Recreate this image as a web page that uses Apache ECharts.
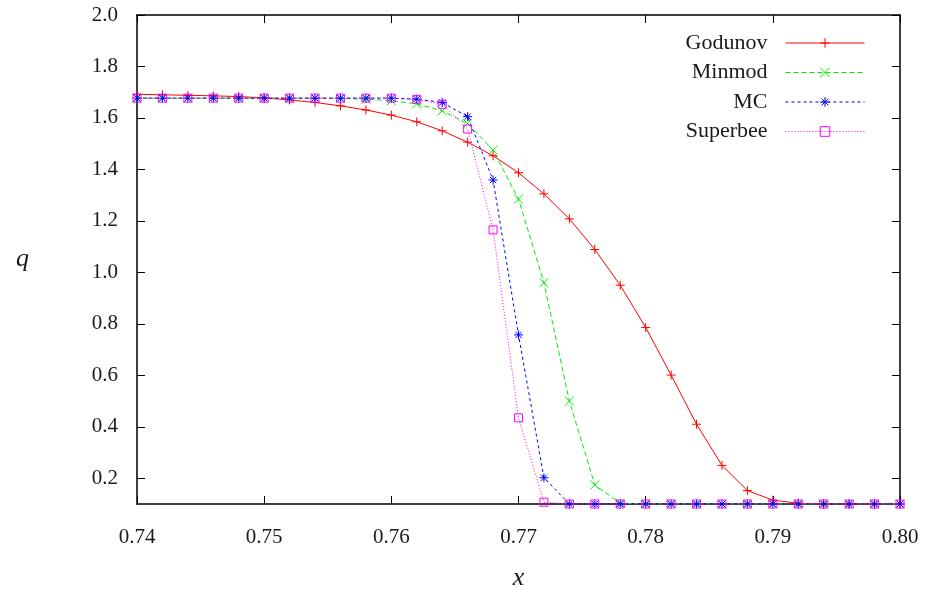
<!DOCTYPE html>
<html>
<head>
<meta charset="utf-8">
<script src="https://cdn.jsdelivr.net/npm/echarts@6/dist/echarts.min.js"></script>
<style>
  html, body { margin: 0; padding: 0; background: #fff; }
  #chart { width: 926px; height: 590px; }
</style>
</head>
<body>
<div id="chart"></div>
<script>
// x positions of the cells
const xs = [0.740, 0.742, 0.744, 0.746, 0.748, 0.750, 0.752, 0.754, 0.756, 0.758,
  0.760, 0.762, 0.764, 0.766, 0.768, 0.770, 0.772, 0.774, 0.776, 0.778,
  0.780, 0.782, 0.784, 0.786, 0.788, 0.790, 0.792, 0.794, 0.796, 0.798, 0.800]

const godunov = [1.692, 1.690, 1.688, 1.686, 1.683, 1.678, 1.670, 1.660, 1.647, 1.631,
  1.611, 1.585, 1.550, 1.506, 1.453, 1.387, 1.305, 1.208, 1.089, 0.950,
  0.786, 0.601, 0.410, 0.250, 0.152, 0.115, 0.103, 0.100, 0.100, 0.100, 0.100]

const minmod = [1.677, 1.677, 1.677, 1.677, 1.677, 1.677, 1.677, 1.677, 1.676, 1.673,
  1.667, 1.655, 1.628, 1.578, 1.475, 1.285, 0.960, 0.500, 0.174, 0.103,
  0.100, 0.100, 0.100, 0.100, 0.100, 0.100, 0.100, 0.100, 0.100, 0.100, 0.100]

const mc = [1.677, 1.677, 1.677, 1.677, 1.677, 1.677, 1.677, 1.677, 1.677, 1.677,
  1.677, 1.673, 1.660, 1.605, 1.359, 0.757, 0.202, 0.100, 0.100, 0.100,
  0.100, 0.100, 0.100, 0.100, 0.100, 0.100, 0.100, 0.100, 0.100, 0.100, 0.100]

const superbee = [1.677, 1.677, 1.677, 1.677, 1.677, 1.677, 1.677, 1.677, 1.677, 1.677,
  1.677, 1.672, 1.653, 1.557, 1.165, 0.435, 0.107, 0.100, 0.100, 0.100,
  0.100, 0.100, 0.100, 0.100, 0.100, 0.100, 0.100, 0.100, 0.100, 0.100, 0.100]

const yTicks = [0.2, 0.4, 0.6, 0.8, 1.0, 1.2, 1.4, 1.6, 1.8, 2.0]

const names = ['Godunov', 'Minmod', 'MC', 'Superbee']

const FONT = 'Liberation Serif'
const INK = '#1a1a1a'

const plus = 'path://M5 0L5 10M0 5L10 5'
const cross = 'path://M0 0L10 10M10 0L0 10'
const star = 'path://M5 0L5 10M0 5L10 5M1.5 1.5L8.5 8.5M8.5 1.5L1.5 8.5'

function pairs(ys) {
  return xs.map((x, i) => [x, ys[i]])
}

function makeSeries(name, ys, color, symbol, size, dash) {
  return {
    name: name,
    type: 'line',
    data: pairs(ys),
    symbol: symbol,
    symbolSize: size,
    showAllSymbol: true,
    lineStyle: { color: color, width: 1, type: dash },
    itemStyle: { color: 'none', borderColor: color, borderWidth: 1 },
    emphasis: { disabled: true }
  }
}

const chart = echarts.init(document.getElementById('chart'))

const axisLine = { show: true, onZero: false, lineStyle: { color: '#000', width: 1.5 } }
const axisTick = { show: true, inside: true, length: 8, lineStyle: { color: '#000', width: 1 } }

const rowTops = [32, 61.5, 91, 120.5]

const option = {
  animation: false,
  grid: { left: 137, right: 26, top: 15, bottom: 86, outerBoundsMode: 'none', containLabel: false },
  legend: names.map((n, i) => ({
    data: [n],
    right: 61,
    top: rowTops[i],
    padding: 0,
    orient: 'vertical',
    align: 'right',
    itemWidth: 79,
    itemHeight: 12,
    selectedMode: false,
    itemStyle: { color: 'none', borderWidth: 1 },
    lineStyle: { width: 1 },
    textStyle: { fontFamily: FONT, fontSize: 22, color: INK, padding: [0, 13, 0, 0] }
  })),
  xAxis: [
    {
      type: 'value',
      min: 0.74,
      max: 0.80,
      interval: 0.01,
      name: 'x',
      nameLocation: 'middle',
      nameGap: 61,
      nameTextStyle: { fontFamily: FONT, fontSize: 26, fontStyle: 'italic', color: INK },
      axisLine: axisLine,
      axisTick: axisTick,
      splitLine: { show: false },
      axisLabel: {
        margin: 23,
        fontFamily: FONT,
        fontSize: 21,
        color: INK,
        formatter: v => v.toFixed(2)
      }
    },
    {
      type: 'value',
      position: 'top',
      min: 0.74,
      max: 0.80,
      interval: 0.01,
      axisLine: axisLine,
      axisTick: axisTick,
      splitLine: { show: false },
      axisLabel: { show: false }
    }
  ],
  yAxis: [
    {
      type: 'value',
      min: 0.1,
      max: 2.0,
      name: 'q',
      nameLocation: 'middle',
      nameRotate: 0,
      nameGap: 108,
      nameTextStyle: { fontFamily: FONT, fontSize: 26, fontStyle: 'italic', color: INK },
      axisLine: axisLine,
      axisTick: Object.assign({ customValues: yTicks }, axisTick),
      splitLine: { show: false },
      axisLabel: {
        customValues: yTicks,
        margin: 19,
        fontFamily: FONT,
        fontSize: 21,
        color: INK,
        formatter: v => v.toFixed(1)
      }
    },
    {
      type: 'value',
      position: 'right',
      min: 0.1,
      max: 2.0,
      axisLine: axisLine,
      axisTick: Object.assign({ customValues: yTicks }, axisTick),
      splitLine: { show: false },
      axisLabel: { show: false, customValues: yTicks }
    }
  ],
  series: [
    makeSeries('Godunov', godunov, '#ff0000', plus, 9, 'solid'),
    makeSeries('Minmod', minmod, '#00ee00', cross, 9, [5, 3]),
    makeSeries('MC', mc, '#0000ff', star, 9, [3, 3]),
    makeSeries('Superbee', superbee, '#ff00ff', 'rect', 8, [1, 2])
  ]
}

chart.setOption(option)
</script>
</body>
</html>
